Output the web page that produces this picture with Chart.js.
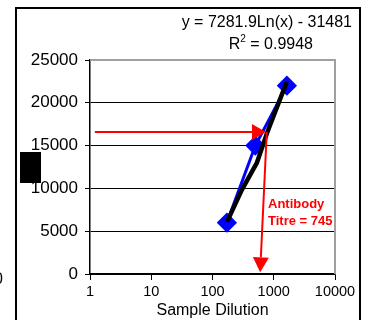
<!DOCTYPE html>
<html>
<head>
<meta charset="utf-8">
<script src="https://cdn.jsdelivr.net/npm/chart.js@4/dist/chart.umd.min.js"></script>
<style>
html,body{margin:0;padding:0;background:#fff;}
#wrap{width:368px;height:320px;position:relative;}
</style>
</head>
<body>
<div id="wrap"><canvas id="c" width="368" height="320"></canvas></div>
<script>
// ---- data ----
const dilutions = [172, 500, 1640];
const signals = [6000, 15000, 22000];
const trendX = [178, 300, 530, 780, 1600];
const trendY = [6300, 9800, 13000, 16500, 22300];
const xTickValues = [1, 10, 100, 1000, 10000];
const yTickValues = [0, 5000, 10000, 15000, 20000, 25000];
const equationText = "y = 7281.9Ln(x) - 31481";
const r2Text = "0.9948";
const titreLabel = ["Antibody", "Titre = 745"];
const arrowLevel = 16600;
const arrowFromX = 1.2;
const titreX = 745;
const arrowDownTopX = 770;
const arrowDownBottom = [600, 200];
const xTitle = "Sample Dilution";

const FONT = "'Liberation Sans', Arial, sans-serif";

function arrow(ctx, x1, y1, x2, y2, headLen, headHalf) {
  const ang = Math.atan2(y2 - y1, x2 - x1);
  const bx = x2 - headLen * Math.cos(ang), by = y2 - headLen * Math.sin(ang);
  ctx.beginPath();
  ctx.moveTo(x1, y1);
  ctx.lineTo(bx, by);
  ctx.stroke();
  ctx.beginPath();
  ctx.moveTo(x2, y2);
  ctx.lineTo(bx + headHalf * Math.sin(ang), by - headHalf * Math.cos(ang));
  ctx.lineTo(bx - headHalf * Math.sin(ang), by + headHalf * Math.cos(ang));
  ctx.closePath();
  ctx.fill();
}

const decor = {
  id: 'decor',
  beforeDatasetsDraw(chart) {
    const {ctx, chartArea: a} = chart;
    ctx.save();
    ctx.strokeStyle = '#a0a0a0';
    ctx.lineWidth = 2;
    ctx.beginPath();
    ctx.moveTo(a.left, a.top);
    ctx.lineTo(a.right, a.top);
    ctx.lineTo(a.right, a.bottom);
    ctx.stroke();
    ctx.restore();
  },
  afterDatasetsDraw(chart) {
    const {ctx} = chart;
    const xs = chart.scales.x, ys = chart.scales.y;
    ctx.save();
    ctx.strokeStyle = '#ff0000';
    ctx.fillStyle = '#ff0000';
    ctx.lineWidth = 2;
    const yL = ys.getPixelForValue(arrowLevel);
    arrow(ctx, xs.getPixelForValue(arrowFromX), yL, xs.getPixelForValue(titreX), yL, 14, 8);
    arrow(ctx, xs.getPixelForValue(arrowDownTopX), yL,
          xs.getPixelForValue(arrowDownBottom[0]), ys.getPixelForValue(arrowDownBottom[1]), 15, 8);
    ctx.font = "bold 13px " + FONT;
    ctx.textBaseline = 'middle';
    ctx.textAlign = 'left';
    ctx.fillText(titreLabel[0], 268, 204);
    ctx.fillText(titreLabel[1], 268, 221);
    ctx.restore();
  },
  afterDraw(chart) {
    const {ctx} = chart;
    ctx.save();
    // outer frame
    ctx.strokeStyle = '#000';
    ctx.lineWidth = 2;
    ctx.beginPath();
    ctx.moveTo(16, 320); ctx.lineTo(16, 8); ctx.lineTo(360, 8); ctx.lineTo(360, 320);
    ctx.stroke();
    // black block and clipped glyph at left
    ctx.fillStyle = '#000';
    ctx.fillRect(20, 152, 21, 31);
    ctx.font = "16px " + FONT;
    ctx.textBaseline = 'middle';
    ctx.textAlign = 'left';
    ctx.fillText("0", -6, 280);
    // equation
    ctx.textAlign = 'right';
    ctx.fillText(equationText, 352, 23);
    const rest = " = " + r2Text;
    const wRest = ctx.measureText(rest).width;
    ctx.fillText(rest, 313, 45);
    ctx.font = "10px " + FONT;
    const w2 = ctx.measureText("2").width;
    ctx.fillText("2", 313 - wRest, 39);
    ctx.font = "16px " + FONT;
    ctx.fillText("R", 313 - wRest - w2, 45);
    ctx.restore();
  }
};

new Chart(document.getElementById('c'), {
  type: 'scatter',
  data: {
    datasets: [
      {
        data: trendX.map((x, i) => ({x: x, y: trendY[i]})),
        showLine: true,
        borderColor: '#000',
        borderWidth: 4.5,
        pointRadius: 0,
        borderCapStyle: 'round',
        order: 0
      },
      {
        data: dilutions.map((x, i) => ({x: x, y: signals[i]})),
        showLine: true,
        borderColor: '#0000ff',
        borderWidth: 3,
        backgroundColor: '#0000ff',
        pointBackgroundColor: '#0000ff',
        pointBorderColor: '#0000ff',
        pointStyle: 'rectRot',
        pointRadius: 8,
        order: 1
      }
    ]
  },
  options: {
    responsive: false,
    animation: false,
    layout: {padding: {left: 0, right: 33, top: 60, bottom: 0}},
    plugins: {legend: {display: false}, tooltip: {enabled: false}},
    scales: {
      x: {
        type: 'logarithmic',
        min: 1, max: 10000,
        afterBuildTicks(s) { s.ticks = xTickValues.map(v => ({value: v})); },
        afterFit(s) { s.height = 46; },
        border: {display: true, color: '#000', width: 1.5},
        grid: {drawOnChartArea: false, drawTicks: true, tickLength: 6, color: '#000'},
        ticks: {
          color: '#000', padding: 3, maxRotation: 0, autoSkip: false,
          font: {family: FONT, size: 14.5},
          callback: v => String(v)
        },
        title: {display: true, text: xTitle, color: '#000', font: {family: FONT, size: 16}, padding: 0}
      },
      y: {
        min: 0, max: 25000,
        afterBuildTicks(s) { s.ticks = yTickValues.map(v => ({value: v})); },
        afterFit(s) { s.width = 90; },
        border: {display: true, color: '#000', width: 1.5},
        grid: {color: '#000', lineWidth: 1, tickLength: 5},
        ticks: {
          color: '#000', padding: 7,
          font: {family: FONT, size: 17},
          callback: v => String(v)
        }
      }
    }
  },
  plugins: [decor]
});
</script>
</body>
</html>
